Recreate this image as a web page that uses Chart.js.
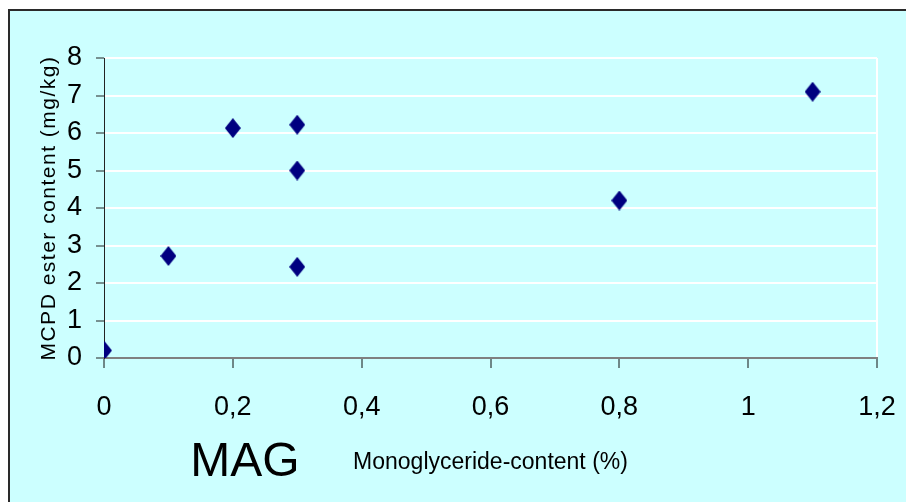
<!DOCTYPE html>
<html>
<head>
<meta charset="utf-8">
<script src="https://cdn.jsdelivr.net/npm/chart.js@4"></script>
<style>
  html, body { margin: 0; padding: 0; background: #fff; }
  #wrap { width: 906px; height: 502px; }
</style>
</head>
<body>
<div id="wrap"><canvas id="chart" width="906" height="502"></canvas></div>
<script>
// Messwerte: Monoglycerid-Gehalt (%) gegen MCPD-Ester-Gehalt (mg/kg)
const magGehalt = [0, 0.1, 0.2, 0.3, 0.3, 0.3, 0.8, 1.1];
const mcpdGehalt = [0.2, 2.72, 6.13, 6.22, 5.0, 2.43, 4.2, 7.1];

const xTicks = [0, 0.2, 0.4, 0.6, 0.8, 1, 1.2];
const xTickLabels = ['0', '0,2', '0,4', '0,6', '0,8', '1', '1,2'];
const yTicks = [0, 1, 2, 3, 4, 5, 6, 7, 8];
const yTickLabels = ['0', '1', '2', '3', '4', '5', '6', '7', '8'];

const xTitel = 'Monoglyceride-content (%)';
const yTitel = 'MCPD ester content (mg/kg)';
const beschriftung = 'MAG';

const schrift = '"Liberation Sans", Arial, sans-serif';

// Rauten-Marker (etwas höher als breit, wie im Original)
const raute = document.createElement('canvas');
raute.width = 16;
raute.height = 20;
const rc = raute.getContext('2d');
rc.fillStyle = '#000080';
rc.beginPath();
rc.moveTo(8, 0);
rc.lineTo(16, 10);
rc.lineTo(8, 20);
rc.lineTo(0, 10);
rc.closePath();
rc.fill();

// Hintergrund, Rahmen, y-Titel und "MAG"
const rahmenPlugin = {
  id: 'rahmen',
  beforeDraw(chart) {
    const ctx = chart.ctx;
    ctx.save();
    ctx.fillStyle = '#ffffff';
    ctx.fillRect(0, 0, chart.width, chart.height);
    ctx.fillStyle = '#ccffff';
    ctx.fillRect(8, 9, chart.width - 8, chart.height - 9);
    ctx.fillStyle = '#2a2a2a';
    ctx.fillRect(8, 9, chart.width - 8, 2);
    ctx.fillRect(8, 9, 2, chart.height - 9);
    ctx.restore();
  },
  afterDraw(chart) {
    const ctx = chart.ctx;
    const area = chart.chartArea;
    ctx.save();
    ctx.fillStyle = '#000';
    ctx.textAlign = 'center';
    ctx.textBaseline = 'middle';
    ctx.font = '21px ' + schrift;
    ctx.letterSpacing = '1.5px';
    ctx.translate(49, (area.top + area.bottom) / 2);
    ctx.rotate(-Math.PI / 2);
    ctx.fillText(yTitel, 0, 0);
    ctx.restore();

    ctx.save();
    ctx.fillStyle = '#000';
    ctx.textAlign = 'center';
    ctx.textBaseline = 'middle';
    ctx.font = '48px ' + schrift;
    ctx.fillText(beschriftung, 245, 463);
    ctx.restore();
  }
};

const daten = {
  datasets: [{
    label: 'MCPD',
    data: magGehalt.map((x, i) => ({ x: x, y: mcpdGehalt[i] })),
    pointStyle: raute,
    pointRadius: 10,
    backgroundColor: '#000080',
    borderColor: '#000080',
    showLine: false
  }]
};

const optionen = {
  responsive: false,
  animation: false,
  devicePixelRatio: 1,
  layout: { padding: { top: 58, right: 29, bottom: 26, left: 0 } },
  plugins: {
    legend: { display: false },
    tooltip: { enabled: false }
  },
  scales: {
    x: {
      type: 'linear',
      min: 0,
      max: 1.2,
      afterBuildTicks: s => { s.ticks = xTicks.map(v => ({ value: v })); },
      afterFit: s => {
        s.height = 118;
        s.paddingLeft = 0;
        s.paddingRight = 0;
      },
      ticks: {
        callback: (v, i) => xTickLabels[i],
        font: { family: schrift, size: 27 },
        color: '#000',
        padding: 23,
        maxRotation: 0
      },
      grid: {
        color: c => (c.index === xTicks.length - 1 ? '#ffffff' : 'rgba(0,0,0,0)'),
        lineWidth: 2,
        tickColor: '#111',
        tickLength: 10,
        tickWidth: 1
      },
      border: { color: '#808080', width: 2 },
      title: {
        display: true,
        text: xTitel,
        font: { family: schrift, size: 23 },
        color: '#000',
        padding: { top: 0, bottom: 0 }
      }
    },
    y: {
      min: 0,
      max: 8,
      afterBuildTicks: s => { s.ticks = yTicks.map(v => ({ value: v })); },
      afterFit: s => {
        s.width = 104;
        s.paddingTop = 0;
        s.paddingBottom = 0;
      },
      ticks: {
        callback: (v, i) => yTickLabels[i],
        font: { family: schrift, size: 27 },
        color: '#000',
        padding: 14
      },
      grid: {
        color: '#ffffff',
        lineWidth: 2,
        tickColor: '#222',
        tickLength: 8,
        tickWidth: 1
      },
      border: { color: '#222', width: 1 }
    }
  }
};

new Chart(document.getElementById('chart').getContext('2d'), {
  type: 'scatter',
  data: daten,
  options: optionen,
  plugins: [rahmenPlugin]
});
</script>
</body>
</html>
